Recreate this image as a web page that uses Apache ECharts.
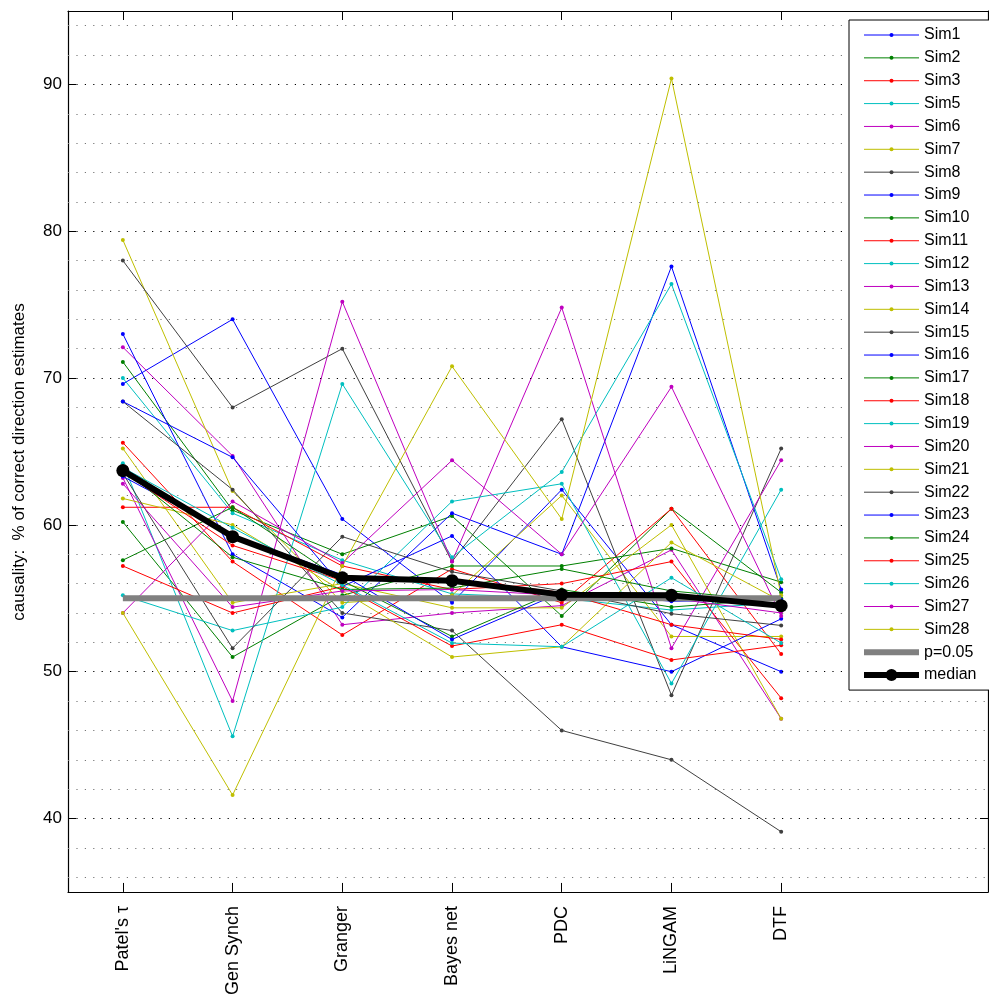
<!DOCTYPE html>
<html><head><meta charset="utf-8">
<script src="https://cdn.jsdelivr.net/npm/echarts@6/dist/echarts.min.js"></script>
<style>html,body{margin:0;padding:0;background:#fff}#c{width:989px;height:998px}</style>
</head><body><div id="c"></div>
<script>
// ---- data ----
const categories = ["Patel's \u03c4", "Gen Synch", "Granger", "Bayes net", "PDC", "LiNGAM", "DTF"];
const yTicks = [40, 50, 60, 70, 80, 90];
const gridLevels = [36, 38, 40, 42, 44, 46, 48, 50, 52, 54, 56, 58, 60, 62, 64, 66, 68, 70, 72, 74, 76, 78, 80, 82, 84, 86, 88, 90, 92, 94];

const sim1  = [69.6, 74.0, 60.4, 54.7, 62.4, 53.2, 50.0];
const sim2  = [71.1, 61.0, 58.0, 60.6, 53.8, 61.1, 55.4];
const sim3  = [65.6, 57.5, 52.5, 57.0, 54.7, 61.1, 51.2];
const sim5  = [70.0, 60.8, 57.6, 55.3, 55.0, 54.2, 54.7];
const sim6  = [72.1, 64.7, 53.2, 54.0, 54.5, 58.3, 46.8];
const sim7  = [79.4, 62.3, 54.7, 55.2, 62.0, 52.4, 52.4];
const sim8  = [78.0, 68.0, 72.0, 57.5, 67.2, 48.4, 65.2];
const sim9  = [73.0, 58.0, 53.7, 60.8, 58.0, 77.6, 55.6];
const sim10 = [60.2, 51.0, 55.2, 57.2, 57.2, 58.4, 56.1];
const sim11 = [61.2, 61.2, 57.2, 55.6, 56.0, 57.5, 48.2];
const sim12 = [64.2, 45.6, 69.6, 57.8, 63.6, 76.4, 56.3];
const sim13 = [63.2, 48.0, 75.2, 57.5, 74.8, 51.6, 64.4];
const sim14 = [65.2, 54.7, 56.0, 54.35, 54.35, 60.0, 46.8];
const sim15 = [68.4, 62.4, 54.0, 52.8, 46.0, 44.0, 39.1];
const sim16 = [68.4, 64.6, 55.8, 59.25, 51.7, 50.0, 53.6];
const sim17 = [57.6, 61.2, 56.2, 52.4, 55.6, 54.4, 55.0];
const sim18 = [57.2, 54.0, 55.8, 51.75, 53.2, 50.8, 51.8];
const sim19 = [55.2, 52.8, 54.4, 61.6, 62.8, 49.2, 62.4];
const sim20 = [54.0, 61.6, 57.4, 64.4, 58.0, 69.4, 53.8];
const sim21 = [61.8, 60.0, 55.5, 51.0, 51.7, 58.8, 54.8];
const sim22 = [63.5, 51.6, 59.2, 56.8, 55.5, 53.95, 53.15];
const sim23 = [63.3, 59.3, 56.6, 52.2, 55.4, 54.8, 54.9];
const sim24 = [63.8, 57.8, 55.6, 55.7, 57.0, 55.5, 54.8];
const sim25 = [63.6, 58.6, 56.2, 56.3, 55.4, 53.2, 52.2];
const sim26 = [63.9, 59.8, 55.9, 51.95, 51.7, 56.4, 51.95];
const sim27 = [62.8, 54.4, 55.5, 55.6, 55.2, 55.0, 54.0];
const sim28 = [54.0, 41.6, 57.2, 70.8, 60.4, 90.4, 55.2];

const pLevel = [55.0, 55.0, 55.0, 55.0, 55.0, 55.0, 55.0];
const median = [63.7, 59.2, 56.4, 56.2, 55.25, 55.2, 54.5];

const simNames = ['Sim1','Sim2','Sim3','Sim5','Sim6','Sim7','Sim8','Sim9','Sim10','Sim11','Sim12','Sim13','Sim14','Sim15','Sim16','Sim17','Sim18','Sim19','Sim20','Sim21','Sim22','Sim23','Sim24','Sim25','Sim26','Sim27','Sim28'];
const simValues = [sim1,sim2,sim3,sim5,sim6,sim7,sim8,sim9,sim10,sim11,sim12,sim13,sim14,sim15,sim16,sim17,sim18,sim19,sim20,sim21,sim22,sim23,sim24,sim25,sim26,sim27,sim28];

// ---- styling ----
const palette = ['#0000ff', '#008000', '#ff0000', '#00bfbf', '#bf00bf', '#bfbf00', '#404040'];
const FONT = 'Liberation Sans, Arial, Helvetica, sans-serif';
const xPos = categories.map((c, i) => i + 1);
const toPts = vals => vals.map((v, i) => [xPos[i], v]);

const series = [];
// horizontal dotted grid lines
series.push({
  type: 'line', data: [], silent: true, animation: false,
  markLine: {
    silent: true, symbol: 'none', animation: false,
    label: {show: false},
    data: gridLevels.map(v => ({
      yAxis: v,
      lineStyle: yTicks.includes(v)
        ? {type: [1.2, 7.2], color: '#000', width: 1.2}
        : {type: [1.2, 7.2], color: '#777', width: 1}
    }))
  }
});
simValues.forEach((vals, k) => {
  series.push({
    name: simNames[k], type: 'line', data: toPts(vals),
    symbol: 'circle', symbolSize: 4, showSymbol: true,
    color: palette[k % 7],
    lineStyle: {width: 1, color: palette[k % 7]},
    itemStyle: {color: palette[k % 7]},
    animation: false, z: 3
  });
});
series.push({
  name: 'p=0.05', type: 'line', data: toPts(pLevel), symbol: 'none',
  color: '#808080', lineStyle: {width: 6, color: '#808080'}, animation: false, z: 4
});
series.push({
  name: 'median', type: 'line', data: toPts(median), symbol: 'circle', symbolSize: 13,
  color: '#000', lineStyle: {width: 6, color: '#000'}, itemStyle: {color: '#000'}, animation: false, z: 5
});

const axisBase = {
  type: 'value', min: 0.5, max: 8.885,
  axisLine: {show: true, onZero: false, lineStyle: {color: '#000', width: 1.2}},
  splitLine: {show: false}
};

const legendData = simNames.map(n => ({name: n}));
legendData.push({name: 'p=0.05', itemStyle: {opacity: 0}, lineStyle: {width: 6, color: '#808080'}});
legendData.push({name: 'median', itemStyle: {color: '#000', borderColor: '#000', borderWidth: 8}, lineStyle: {width: 6, color: '#000'}});

const option = {
  backgroundColor: '#fff',
  animation: false,
  grid: {left: 68, top: 11, width: 920, height: 884, containLabel: false},
  xAxis: [
    Object.assign({}, axisBase, {
      position: 'bottom',
      axisTick: {show: true, inside: true, length: 9, customValues: xPos, lineStyle: {color: '#000'}},
      axisLabel: {show: true, customValues: xPos, rotate: 90, margin: 14,
        formatter: v => categories[Math.round(v) - 1] || '',
        fontSize: 18, color: '#000', fontFamily: FONT}
    }),
    Object.assign({}, axisBase, {
      position: 'top',
      axisTick: {show: true, inside: true, length: 9, customValues: xPos, lineStyle: {color: '#000'}},
      axisLabel: {show: false}
    })
  ],
  yAxis: [
    {
      type: 'value', min: 35, max: 95, position: 'left',
      axisLine: {show: true, onZero: false, lineStyle: {color: '#000', width: 1.2}},
      axisTick: {show: true, inside: true, length: 8, customValues: yTicks, lineStyle: {color: '#000'}},
      axisLabel: {show: true, customValues: yTicks, margin: 6, fontSize: 17, color: '#000', fontFamily: FONT},
      splitLine: {show: false}
    },
    {
      type: 'value', min: 35, max: 95, position: 'right',
      axisLine: {show: true, onZero: false, lineStyle: {color: '#000', width: 1.2}},
      axisTick: {show: true, inside: true, length: 8, customValues: yTicks, lineStyle: {color: '#000'}},
      axisLabel: {show: false},
      splitLine: {show: false}
    }
  ],
  legend: {
    show: true, orient: 'vertical', left: 849, top: 20,
    data: legendData,
    itemWidth: 55, itemHeight: 5, itemGap: 6.86,
    padding: [7, 14, 7, 12],
    backgroundColor: '#fff', borderColor: '#000', borderWidth: 1,
    lineStyle: {width: 1},
    textStyle: {fontSize: 16, lineHeight: 16, color: '#000', fontFamily: FONT},
    z: 10
  },
  graphic: [{
    type: 'text', x: 19, y: 462, z: 10,
    rotation: Math.PI / 2,
    style: {text: 'causality:  % of correct direction estimates', fontSize: 17, fill: '#000', fontFamily: FONT,
      align: 'center', verticalAlign: 'middle', textAlign: 'center', textVerticalAlign: 'middle'}
  }],
  series: series
};

const chart = echarts.init(document.getElementById('c'), null, {renderer: 'canvas'});
chart.setOption(option);
</script>
</body></html>
